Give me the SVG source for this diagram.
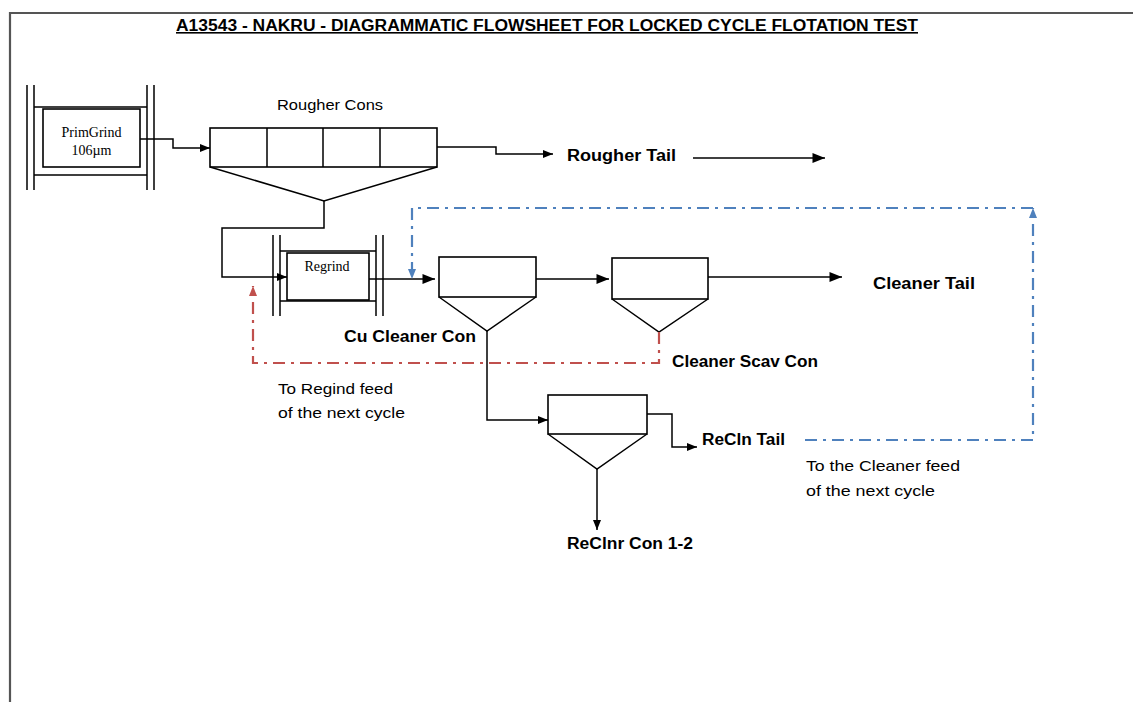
<svg xmlns="http://www.w3.org/2000/svg" width="1133" height="702" viewBox="0 0 1133 702">
<style>
.ln{fill:none;stroke:#000;stroke-width:1.5}
.bx{fill:#fff;stroke:#000;stroke-width:1.6}
.bl{fill:none;stroke:#4f81bd;stroke-width:2.2;stroke-dasharray:12,6,3,6}
.rd{fill:none;stroke:#c0504d;stroke-width:2.2;stroke-dasharray:12,6,3,6}
.lb{font-family:"Liberation Sans",Arial,sans-serif;font-size:16px;font-weight:bold;fill:#000}
.nt{font-family:"Liberation Sans",Arial,sans-serif;font-size:15px;fill:#000}
.sf{font-family:"Liberation Serif","Times New Roman",serif;font-size:14px;fill:#000}
</style>
<defs>
<marker id="ah" viewBox="0 0 10 8" refX="10" refY="4" markerWidth="10" markerHeight="8" markerUnits="userSpaceOnUse" orient="auto"><path d="M0,0L10,4L0,8z" fill="#000"/></marker>
<marker id="ahs" viewBox="0 0 10 8" refX="10" refY="4" markerWidth="13" markerHeight="10" markerUnits="userSpaceOnUse" orient="auto"><path d="M0,0L10,4L0,8z" fill="#000"/></marker>
<marker id="ab" viewBox="0 0 10 8" refX="10" refY="4" markerWidth="10" markerHeight="8" markerUnits="userSpaceOnUse" orient="auto"><path d="M0,0L10,4L0,8z" fill="#4f81bd"/></marker>
<marker id="ar" viewBox="0 0 10 8" refX="10" refY="4" markerWidth="10" markerHeight="8" markerUnits="userSpaceOnUse" orient="auto"><path d="M0,0L10,4L0,8z" fill="#c0504d"/></marker>
</defs>
<rect width="1133" height="702" fill="#fff"/>
<g id="frame"><path d="M10,702V13H1133" fill="none" stroke="#555" stroke-width="2.2"/></g>
<g id="title"><text x="176" y="31" class="lb" font-size="15" textLength="742" lengthAdjust="spacingAndGlyphs" text-decoration="underline">A13543 - NAKRU - DIAGRAMMATIC FLOWSHEET FOR LOCKED CYCLE FLOTATION TEST</text></g>
<g id="primgrind">
<path class="ln" d="M27,85V190M34,85V190M147,85V190M154,85V190M34,107H147M34,175H147"/>
<rect class="bx" x="43" y="109" width="97" height="58"/>
<text x="91.5" y="137" class="sf" text-anchor="middle">PrimGrind</text>
<text x="91.5" y="155" class="sf" text-anchor="middle">106µm</text>
</g>
<g id="rougher">
<rect class="bx" x="210" y="128" width="227" height="39"/>
<path class="ln" d="M267,128V167M323,128V167M380,128V167M210,167L324,201L437,167"/>
<text x="330" y="110" class="nt" text-anchor="middle" textLength="106" lengthAdjust="spacingAndGlyphs">Rougher Cons</text>
</g>
<g id="regrind">
<path class="ln" d="M273,235V316M280,235V316M376,235V316M383,235V316M280,251H376M280,301H376"/>
<rect class="bx" x="287" y="253" width="82" height="47"/>
<text x="327" y="271" class="sf" text-anchor="middle" font-size="13">Regrind</text>
</g>
<g id="cleaner1">
<rect class="bx" x="439" y="257" width="97" height="40"/>
<path class="ln" d="M439,297L487,331L536,297"/>
</g>
<g id="cleaner2">
<rect class="bx" x="612" y="258" width="96" height="41"/>
<path class="ln" d="M612,299L659,332L708,299"/>
</g>
<g id="recleaner">
<rect class="bx" x="548" y="395" width="99" height="39"/>
<path class="ln" d="M548,434L597,469L647,434"/>
</g>
<g id="labels">
<text x="567" y="161" class="lb" textLength="109" lengthAdjust="spacingAndGlyphs">Rougher Tail</text>
<text x="873" y="289" class="lb" textLength="102" lengthAdjust="spacingAndGlyphs">Cleaner Tail</text>
<text x="344" y="342" class="lb" textLength="132" lengthAdjust="spacingAndGlyphs">Cu Cleaner Con</text>
<text x="672" y="367" class="lb" textLength="146" lengthAdjust="spacingAndGlyphs">Cleaner Scav Con</text>
<text x="702" y="445" class="lb" textLength="83" lengthAdjust="spacingAndGlyphs">ReCln Tail</text>
<text x="567" y="549" class="lb" textLength="126" lengthAdjust="spacingAndGlyphs">ReClnr Con 1-2</text>
<text x="278" y="394" class="nt" textLength="115" lengthAdjust="spacingAndGlyphs">To Regind feed</text>
<text x="278" y="418" class="nt" textLength="127" lengthAdjust="spacingAndGlyphs">of the next cycle</text>
<text x="806" y="471" class="nt" textLength="154" lengthAdjust="spacingAndGlyphs">To the Cleaner feed</text>
<text x="806" y="496" class="nt" textLength="129" lengthAdjust="spacingAndGlyphs">of the next cycle</text>
</g>
<g id="connectors">
<path class="ln" d="M140,139H173V148H210" marker-end="url(#ah)"/>
<path class="ln" d="M437,147H496V154H553" marker-end="url(#ah)"/>
<path class="ln" d="M693,158H825" marker-end="url(#ahs)"/>
<path class="ln" d="M324,201V228H222V277H287" marker-end="url(#ah)"/>
<path class="ln" d="M369,279H435" marker-end="url(#ahs)"/>
<path class="ln" d="M536,279H609" marker-end="url(#ahs)"/>
<path class="ln" d="M708,277H842" marker-end="url(#ahs)"/>
<path class="ln" d="M487,331V420H548" marker-end="url(#ah)"/>
<path class="ln" d="M647,414H672V447H697" marker-end="url(#ah)"/>
<path class="ln" d="M597,469V530" marker-end="url(#ah)"/>
<path class="bl" d="M805,440H1033V208" marker-end="url(#ab)"/>
<path class="bl" d="M1033,208H412V279" marker-end="url(#ab)"/>
<path class="rd" d="M659,332V363H253V286" marker-end="url(#ar)"/>
</g>
</svg>
